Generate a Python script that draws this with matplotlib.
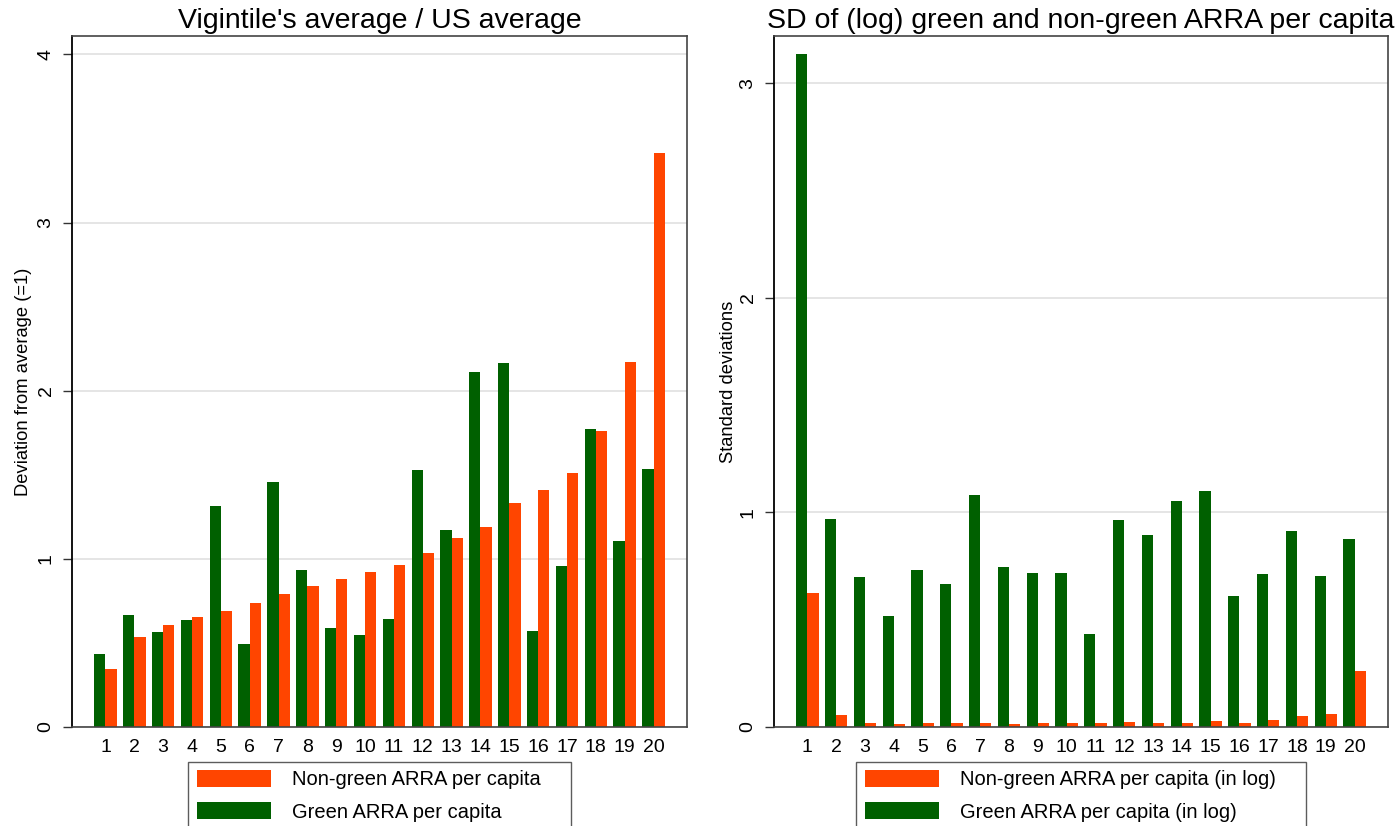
import matplotlib
matplotlib.use("Agg")
import matplotlib.pyplot as plt
from matplotlib.patches import Patch
import numpy as np

plt.rcParams['font.family'] = ['Liberation Sans', 'DejaVu Sans']

vigintiles = list(range(1, 21))

left_green = [0.433, 0.665, 0.563, 0.635, 1.313, 0.492, 1.456, 0.933, 0.587, 0.546,
              0.641, 1.528, 1.171, 2.113, 2.167, 0.569, 0.956, 1.772, 1.105, 1.534]
left_nongreen = [0.343, 0.534, 0.605, 0.653, 0.688, 0.736, 0.790, 0.837, 0.879, 0.921,
                 0.962, 1.034, 1.123, 1.188, 1.331, 1.409, 1.510, 1.760, 2.173, 3.417]

right_green = [3.137, 0.970, 0.699, 0.517, 0.732, 0.667, 1.083, 0.746, 0.718, 0.718,
               0.433, 0.966, 0.896, 1.055, 1.101, 0.611, 0.713, 0.914, 0.704, 0.877]
right_nongreen = [0.625, 0.055, 0.017, 0.012, 0.017, 0.017, 0.017, 0.012, 0.017, 0.017,
                  0.017, 0.022, 0.017, 0.017, 0.026, 0.017, 0.031, 0.050, 0.059, 0.260]

GREEN = '#006000'
ORANGE = '#ff4500'

fig = plt.figure(figsize=(13.98, 8.26), dpi=100)
ax1 = fig.add_axes([72/1398, 1-727/826, (687-72)/1398, (727-36)/826])
ax2 = fig.add_axes([774/1398, 1-727/826, (1388-774)/1398, (727-36)/826])

w = 0.39
x = np.array(vigintiles)

def style(ax, ymax, yticks, ylabel, title, labels, legend_inner_width):
    ax.set_xlim(1 - 1.16, 20 + 1.16)
    ax.set_ylim(0, ymax)
    ax.set_yticks(yticks)
    ax.set_yticklabels([str(t) for t in yticks], rotation=90, va='center', fontsize=14)
    ax.set_xticks(vigintiles)
    ax.set_xticklabels([str(v) for v in vigintiles], fontsize=14)
    ax.tick_params(axis='x', length=0, pad=9)
    ax.tick_params(axis='y', length=6.5, width=1, color='#333333', pad=6)
    ax.yaxis.grid(True, color='#e0e0e0', linewidth=1.2)
    ax.set_axisbelow(True)
    for s in ['top', 'right', 'bottom']:
        ax.spines[s].set_color('#444444')
        ax.spines[s].set_linewidth(1.2)
    ax.spines['left'].set_color('black')
    ax.spines['left'].set_linewidth(1.3)
    ax.set_ylabel(ylabel, fontsize=13.2)
    ax.set_title(title, fontsize=20.5, pad=6)
    handles = [Patch(facecolor=ORANGE, edgecolor='none'), Patch(facecolor=GREEN, edgecolor='none')]
    leg = ax.legend(handles, labels, loc='upper center', bbox_to_anchor=(0.5, -0.0507),
                    ncol=1, frameon=True, fancybox=False, edgecolor='#333333',
                    fontsize=14.5, handlelength=3.7, handleheight=0.9, handletextpad=1.05,
                    borderpad=0.4, labelspacing=0.65, borderaxespad=0, alignment='left')
    leg.get_frame().set_linewidth(1.0)
    leg._legend_box.width = legend_inner_width

ax1.bar(x - w/2, left_green, width=w, color=GREEN, zorder=2)
ax1.bar(x + w/2, left_nongreen, width=w, color=ORANGE, zorder=2)
style(ax1, 4.11, [0, 1, 2, 3, 4], 'Deviation from average (=1)',
      "Vigintile's average / US average",
      ['Non-green ARRA per capita', 'Green ARRA per capita'], 366)
ax1.yaxis.set_label_coords(-0.065, 0.5)

ax2.bar(x - w/2, right_green, width=w, color=GREEN, zorder=2)
ax2.bar(x + w/2, right_nongreen, width=w, color=ORANGE, zorder=2)
style(ax2, 3.22, [0, 1, 2, 3], 'Standard deviations',
      'SD of (log) green and non-green ARRA per capita',
      ['Non-green ARRA per capita (in log)', 'Green ARRA per capita (in log)'], 433)
ax2.yaxis.set_label_coords(-0.060, 0.5)

fig.savefig('out.png', dpi=100)
